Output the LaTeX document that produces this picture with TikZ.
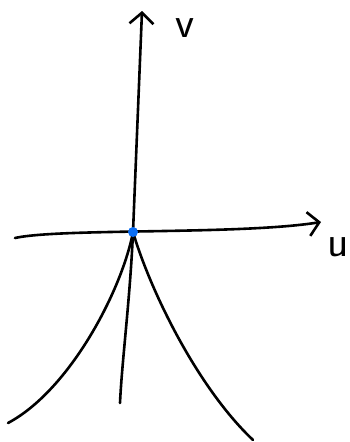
\documentclass[tikz,border=0pt]{standalone}
\usetikzlibrary{arrows.meta}
\definecolor{dotblue}{RGB}{10,110,245}
\begin{document}
\begin{tikzpicture}[x=1pt,y=-1pt,line width=2.6pt,line cap=round,line join=round,
    axis/.style={-{Straight Barb[length=11pt,width=24pt,line width=2.6pt]}},
    lbl/.style={font=\sffamily\fontsize{44}{44}\selectfont,inner sep=0pt}]
  \useasboundingbox (0,0) rectangle (350,442);
  \coordinate (o) at (133,232);
  \coordinate (ul) at (15,238); \coordinate (ur) at (321,222);
  \coordinate (vt) at (142,11);
  \coordinate (bl) at (8,423); \coordinate (bm) at (120,403); \coordinate (br) at (253,440);
  \draw[axis] (ul) .. controls (60,228) and (240,235) .. (ur);
  \draw[axis] (o) -- (vt);
  \draw (o) .. controls (122,290) and (70,390) .. (bl);
  \draw (o) .. controls (130,300) and (122,360) .. (bm);
  \draw (o) .. controls (150,290) and (197,387) .. (br);
  \node[circle,fill=dotblue,minimum size=10pt,inner sep=0pt] (p) at (o) {};
  \node[lbl,anchor=base] (u) at (338,256) {u};
  \node[lbl,anchor=base] (v) at (185,37) {v};
\end{tikzpicture}
\end{document}
